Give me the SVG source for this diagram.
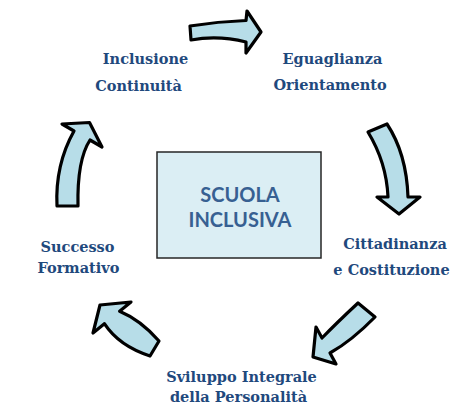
<svg xmlns="http://www.w3.org/2000/svg" width="474" height="409" viewBox="0 0 474 409">
<style>
.arrow{fill:#b7dde8;stroke:#000;stroke-width:3.2;stroke-linejoin:round}
.lbl{font-family:"DejaVu Serif","Liberation Serif",serif;font-weight:bold;font-size:14.5px;fill:#1f497d;text-anchor:middle}
.ctr{font-family:Lato,"Open Sans",sans-serif;font-weight:bold;font-size:20px;fill:#376092;text-anchor:middle}
</style>
<rect width="474" height="409" fill="#fff"/>
<g id="connectors">
<path class="arrow" d="M190,26 Q218,21.5 246,20.5 L247,11 L261,32 L246,53 L246,42 Q218,35 191,40 Z"/>
<path class="arrow" d="M368,132 L387,124 Q406.5,153.5 408,197 L420,197 L399,214 L377,197 L388,197 Q386.5,162.5 368,132 Z"/>
<path class="arrow" d="M358,303 L375,317 Q351.5,341 330,353 L336,364 L313,357 L316,327 L322,338 Q336,323.5 358,303 Z"/>
<path class="arrow" d="M159,341 L150,356 Q119,346 104.4,323.7 L93,333 L100,305 L131,302 L119.6,311.3 Q140.5,320 159,341 Z"/>
<path class="arrow" d="M57,206 L78,206 Q77,160 90,140 L102,147 L89.5,122.5 L62,124 L74,131 Q55,165 57,206 Z"/>
</g>
<g id="center">
<rect x="157" y="152" width="164" height="106" fill="#dbeef4" stroke="#262626" stroke-width="1.5"/>
<text class="ctr" x="240" y="202">SCUOLA</text>
<text class="ctr" x="240" y="227">INCLUSIVA</text>
</g>
<g id="n1"><text class="lbl" x="145.5" y="64">Inclusione</text><text class="lbl" x="138.5" y="91">Continuità</text></g>
<g id="n2"><text class="lbl" x="332.5" y="64">Eguaglianza</text><text class="lbl" x="330" y="90">Orientamento</text></g>
<g id="n3"><text class="lbl" x="395" y="249">Cittadinanza</text><text class="lbl" x="391.5" y="275">e Costituzione</text></g>
<g id="n4"><text class="lbl" x="241.5" y="382">Sviluppo Integrale</text><text class="lbl" x="238.5" y="402">della Personalità</text></g>
<g id="n5"><text class="lbl" x="77.5" y="252">Successo</text><text class="lbl" x="78.5" y="273">Formativo</text></g>
</svg>
